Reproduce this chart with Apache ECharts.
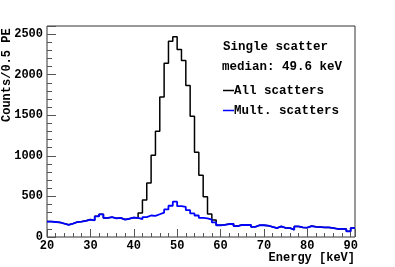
<!DOCTYPE html>
<html><head><meta charset="utf-8">
<script src="https://cdn.jsdelivr.net/npm/echarts@6/dist/echarts.min.js"></script>
<style>html,body{margin:0;padding:0;background:#fff}#c{width:395px;height:267px}</style>
</head><body><div id="c"></div>
<script>
// Bin left edges (keV), 1 keV bins from 20 to 91
const binEdges = [20,21,22,23,24,25,26,27,28,29,30,31,32,33,34,35,36,37,38,39,40,41,42,43,44,45,46,47,48,49,50,51,52,53,54,55,56,57,58,59,60,61,62,63,64,65,66,67,68,69,70,71,72,73,74,75,76,77,78,79,80,81,82,83,84,85,86,87,88,89,90];
const lastEdge = 91;
// Mult. scatters (blue)
const multScatters = [190,185,180,165,150,165,185,190,200,215,205,255,280,235,245,230,235,215,225,240,235,220,245,265,260,280,300,340,385,435,380,370,330,290,265,235,230,215,180,145,150,160,162,135,150,148,150,125,145,145,140,125,110,130,112,110,90,130,118,115,135,125,122,118,118,110,100,100,98,70,110];
// All scatters (black)
const allScatters = [190,185,180,165,150,165,185,190,200,215,205,255,280,235,245,230,235,215,225,240,235,295,455,664,1008,1303,1724,2142,2412,2466,2310,2175,1868,1487,1045,762,495,283,209,145,150,160,162,135,150,148,150,125,145,145,140,125,110,130,112,110,90,130,118,115,135,125,122,118,118,110,100,100,98,70,110];
const xTickLabels = [20,30,40,50,60,70,80,90];
const yTickLabels = [0,500,1000,1500,2000,2500];
const seriesNames = ['All scatters','Mult. scatters'];
const annotation = ['Single scatter','median: 49.6 keV'];
const xTitle = 'Energy [keV]';
const yTitle = 'Counts/0.5 PE';

function hist(vals){
  const d = binEdges.map((e,i)=>[e, vals[i]]);
  d.push([lastEdge, vals[vals.length-1]]);
  return d;
}
const FONT = 'Liberation Mono';
const chart = echarts.init(document.getElementById('c'), null, {renderer:'canvas'});
const axisLbl = {fontFamily:FONT, fontWeight:'bold', fontSize:12, color:'#000'};
chart.setOption({
  backgroundColor:'#fff',
  animation:false,
  grid:{left:47,right:40,top:26,bottom:30,show:true,borderColor:'#333',borderWidth:1,backgroundColor:'transparent'},
  xAxis:[
    {type:'value',min:20,max:lastEdge,interval:10,
     axisLine:{show:false},splitLine:{show:false},
     axisTick:{show:true,inside:true,length:8,lineStyle:{color:'#555'}},
     axisLabel:Object.assign({margin:3,formatter:v=>xTickLabels.includes(v)?String(v):''},axisLbl)},
    {type:'value',min:20,max:lastEdge,interval:2,position:'bottom',
     axisLine:{show:false},splitLine:{show:false},axisLabel:{show:false},
     axisTick:{show:true,inside:true,length:4,lineStyle:{color:'#555'}}}
  ],
  yAxis:[
    {type:'value',min:0,max:2600,interval:500,
     axisLine:{show:false},splitLine:{show:false},
     axisTick:{show:true,inside:true,length:9,lineStyle:{color:'#555'}},
     axisLabel:Object.assign({margin:4,formatter:v=>yTickLabels.includes(v)?String(v):''},axisLbl)},
    {type:'value',min:0,max:2600,interval:100,position:'left',
     axisLine:{show:false},splitLine:{show:false},axisLabel:{show:false},
     axisTick:{show:true,inside:true,length:5,lineStyle:{color:'#555'}}}
  ],
  legend:{orient:'vertical',left:218,top:79,itemGap:7,itemWidth:11,itemHeight:1.5,
    icon:'rect',data:seriesNames,
    textStyle:{fontFamily:FONT,fontWeight:'bold',fontSize:12.5,color:'#000',padding:[0,0,0,-5]}},
  graphic:[
    {type:'text',left:223,top:40,style:{text:annotation[0],font:'bold 12.5px "Liberation Mono"',fill:'#000'}},
    {type:'text',left:222,top:60,style:{text:annotation[1],font:'bold 12.5px "Liberation Mono"',fill:'#000'}},
    {type:'text',right:40,top:252,style:{text:xTitle,font:'bold 12px "Liberation Mono"',fill:'#000'}},
    {type:'text',x:7,y:122,rotation:Math.PI/2,style:{text:yTitle,font:'bold 12px "Liberation Mono"',fill:'#000',align:'left',verticalAlign:'middle'}}
  ],
  series:[
    {name:seriesNames[0],type:'line',step:'end',data:hist(allScatters),symbol:'none',
     lineStyle:{color:'#000',width:1.5},itemStyle:{color:'#000'},z:2},
    {name:seriesNames[1],type:'line',step:'end',data:hist(multScatters),symbol:'none',
     lineStyle:{color:'#0000ff',width:1.8},itemStyle:{color:'#0000ff'},z:3}
  ]
});
</script></body></html>
